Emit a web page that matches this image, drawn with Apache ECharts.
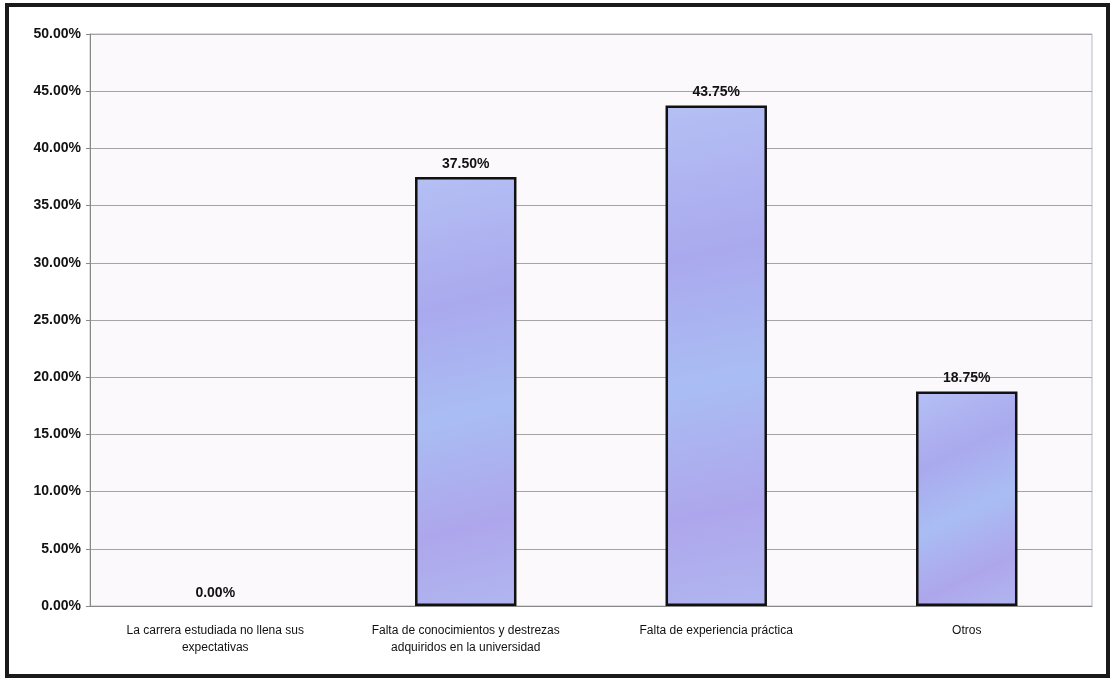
<!DOCTYPE html>
<html>
<head>
<meta charset="utf-8">
<script src="https://cdn.jsdelivr.net/npm/echarts@6/dist/echarts.min.js"></script>
<style>
html,body{margin:0;padding:0;background:#fff;}
#c{width:1112px;height:684px;}
</style>
</head>
<body>
<div id="c"></div>
<script>
var categories = [
  "La carrera estudiada no llena sus\nexpectativas",
  "Falta de conocimientos y destrezas\nadquiridos en la universidad",
  "Falta de experiencia práctica",
  "Otros"
];
var values = [0.00, 37.50, 43.75, 18.75];
var yMin = 0, yMax = 50, yStep = 5;

var chart = echarts.init(document.getElementById('c'));
var barFill = new echarts.graphic.LinearGradient(0, 0, 1, 1, [
  {offset: 0, color: '#b4c0f4'},
  {offset: 0.3, color: '#aaa9ee'},
  {offset: 0.55, color: '#a9bdf3'},
  {offset: 0.8, color: '#aea6ec'},
  {offset: 1, color: '#b0b6f0'}
]);
var barData = values.map(function(v){
  return v === 0 ? {value: v, itemStyle: {borderWidth: 0, color: 'transparent'}} : v;
});
chart.setOption({
  animation: false,
  backgroundColor: '#ffffff',
  textStyle: {fontFamily: 'Liberation Sans, Arial, sans-serif'},
  graphic: [
    {type: 'rect', shape: {x: 7, y: 5, width: 1101, height: 671}, style: {fill: 'none', stroke: '#1a1a1a', lineWidth: 4}, z: 100}
  ],
  grid: {left: 90, right: 20, top: 34, bottom: 78, show: true, backgroundColor: '#fbf9fc', borderColor: '#b8b8c8', borderWidth: 1},
  xAxis: {
    type: 'category',
    data: categories,
    axisLine: {lineStyle: {color: '#888888', width: 1}},
    axisTick: {show: false},
    axisLabel: {color: '#111', fontSize: 12, margin: 16, lineHeight: 17, interval: 0, align: 'center'}
  },
  yAxis: {
    type: 'value',
    min: yMin, max: yMax, interval: yStep,
    axisLine: {show: true, lineStyle: {color: '#888888'}},
    axisTick: {show: true, length: 4, lineStyle: {color: '#888888'}},
    axisLabel: {color: '#111', fontWeight: 'bold', fontSize: 14, margin: 9, formatter: function(v){return v.toFixed(2) + '%';}},
    splitLine: {lineStyle: {color: '#a4a4a4', width: 1}}
  },
  series: [{
    type: 'bar',
    data: barData,
    barWidth: '40.5%',
    itemStyle: {color: barFill, borderColor: '#111', borderWidth: 2.5},
    label: {show: true, position: 'top', distance: 6, color: '#111', fontWeight: 'bold', fontSize: 14,
      formatter: function(p){return p.value.toFixed(2) + '%';}}
  }]
});
</script>
</body>
</html>
